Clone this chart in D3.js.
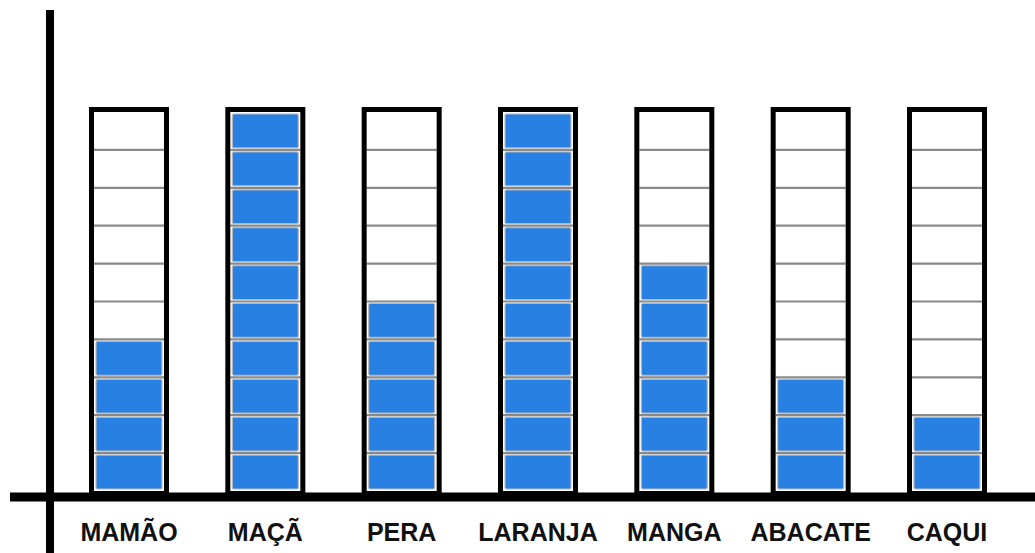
<!DOCTYPE html>
<html>
<head>
<meta charset="utf-8">
<script src="https://cdn.jsdelivr.net/npm/d3@7"></script>
<style>
  html, body { margin: 0; padding: 0; background: #ffffff; }
  svg { display: block; }
</style>
</head>
<body>
<script>
// ---- data ----
const categories = ["MAMÃO", "MAÇÃ", "PERA", "LARANJA", "MANGA", "ABACATE", "CAQUI"];
const values = [4, 10, 5, 10, 6, 3, 2];
const maxCells = 10;

// ---- layout ----
const W = 1035, H = 553;
const svg = d3.select("body").append("svg").attr("width", W).attr("height", H);

const x = d3.scalePoint().domain(categories).range([129, 947]);
const y = d3.scaleLinear().domain([0, maxCells]).range([491, 112]);
const innerHalf = 35;   // half of inner column width
const border = 5;

const blue = "#2780e2";

// columns
const col = svg.selectAll("g.col").data(categories).join("g")
  .attr("class", "col")
  .attr("transform", d => `translate(${x(d)},0)`);

// cells
col.each(function(cat, i) {
  const g = d3.select(this);
  const cells = d3.range(maxCells);
  // grid lines between cells
  g.selectAll("line.grid").data(d3.range(1, maxCells)).join("line")
    .attr("class", "grid")
    .attr("x1", -innerHalf).attr("x2", innerHalf)
    .attr("y1", k => y(k)).attr("y2", k => y(k))
    .attr("stroke", "#8a8a8a").attr("stroke-width", 2.2);
  // filled cells
  g.selectAll("rect.cell").data(cells.filter(k => k < values[i])).join("rect")
    .attr("class", "cell")
    .attr("x", -innerHalf + 2)
    .attr("width", innerHalf * 2 - 4)
    .attr("y", k => y(k + 1) + 2)
    .attr("height", k => y(k) - y(k + 1) - 4)
    .attr("rx", 1.5)
    .attr("fill", blue)
    .attr("stroke", "#b9b9b9").attr("stroke-width", 1.2);
  // outer frame
  g.append("rect")
    .attr("x", -innerHalf - border / 2)
    .attr("width", innerHalf * 2 + border)
    .attr("y", y(maxCells) - border / 2)
    .attr("height", y(0) - y(maxCells) + border)
    .attr("fill", "none")
    .attr("stroke", "#000").attr("stroke-width", border);
});

// axes (hand-drawn style thick lines)
svg.append("line")
  .attr("x1", 10).attr("x2", W).attr("y1", 497).attr("y2", 497)
  .attr("stroke", "#000").attr("stroke-width", 9);
svg.append("line")
  .attr("x1", 50).attr("x2", 50).attr("y1", 10).attr("y2", H)
  .attr("stroke", "#000").attr("stroke-width", 8);

// category labels
svg.selectAll("text.lab").data(categories).join("text")
  .attr("class", "lab")
  .attr("x", d => x(d))
  .attr("y", 541)
  .attr("text-anchor", "middle")
  .attr("font-family", "'Liberation Sans', Arial, sans-serif")
  .attr("font-weight", "bold")
  .attr("font-size", 25)
  .attr("fill", "#111")
  .text(d => d);
</script>
</body>
</html>
